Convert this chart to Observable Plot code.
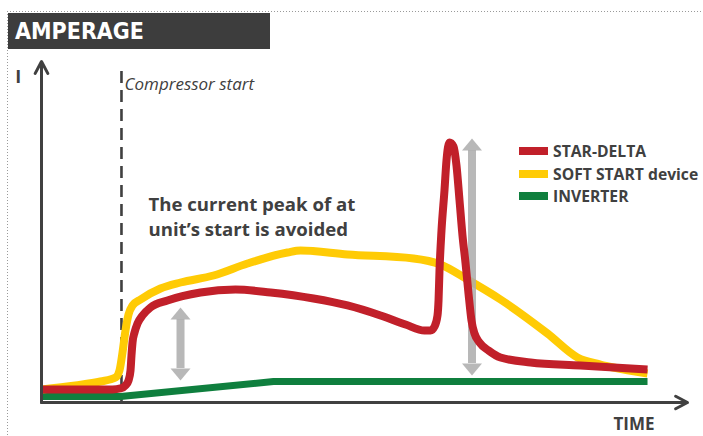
<!DOCTYPE html>
<html><head><meta charset="utf-8">
<script src="https://cdn.jsdelivr.net/npm/d3@7"></script>
<script src="https://cdn.jsdelivr.net/npm/@observablehq/plot@0.6"></script>
<style>
body{margin:0;background:#fff;}
#wrap{position:relative;width:703px;height:436px;overflow:hidden;font-family:"Open Sans",sans-serif;background:#fff;}
#wrap svg{position:absolute;left:0;top:0;}
.dotH{position:absolute;left:7px;top:11px;width:696px;height:1px;background:repeating-linear-gradient(to right,#9a9a9a 0 1px,transparent 1px 3px);}
.dotV{position:absolute;left:7px;top:11px;width:1px;height:425px;background:repeating-linear-gradient(to bottom,#9a9a9a 0 1px,transparent 1px 3px);}
#title{position:absolute;left:8px;top:13px;width:262px;height:36px;background:#3d3d3d;color:#fff;font-weight:bold;font-size:23px;line-height:36px;font-family:"DejaVu Sans Condensed","Liberation Sans Narrow",sans-serif;padding-left:7px;box-sizing:border-box;}
#legend{position:absolute;left:519px;top:140px;}
.row{display:flex;align-items:center;height:22.5px;font-weight:700;font-size:15.7px;color:#404040;white-space:nowrap;}
.sw{width:29px;height:8px;margin-right:5px;}
</style></head><body>
<div id="wrap">
  <div class="dotH"></div><div class="dotV"></div>
  <div id="chart"></div>
  <div id="title">AMPERAGE</div>
  <div id="legend"></div>
</div>
<script>
// Series names and colours
const seriesNames = ["STAR-DELTA", "SOFT START device", "INVERTER"];
const seriesColors = ["#c1202a", "#ffcb05", "#0f7f3e"];

// STAR-DELTA (time units 0-100, current units 0-100)
const starDeltaT = [0, 10.99, 12.23, 13.00, 13.47, 13.78, 13.93, 14.09, 14.40, 14.86, 15.63, 16.87, 19.50, 24.61, 30.03, 35.45, 42.11, 47.37, 52.48, 56.35, 59.29, 60.22, 60.84, 61.30, 61.46, 61.61, 61.92, 62.38, 62.69, 63.16, 63.78, 64.24, 64.71, 65.17, 65.63, 66.10, 66.56, 67.03, 67.80, 69.20, 71.05, 75.70, 83.44, 93.81];
const starDeltaI = [3.81, 3.81, 4.11, 4.99, 6.45, 9.38, 13.78, 17.60, 20.53, 23.17, 25.51, 27.86, 29.91, 32.26, 33.14, 32.26, 30.50, 28.45, 25.51, 22.87, 21.11, 21.11, 22.29, 25.51, 29.91, 38.71, 50.44, 62.17, 70.97, 76.25, 75.07, 69.50, 59.24, 48.97, 41.06, 31.96, 24.05, 20.23, 17.60, 15.25, 13.20, 11.73, 10.85, 9.68];

// SOFT START device
const softStartT = [0, 5.26, 9.13, 11.46, 12.07, 12.54, 13.00, 13.47, 14.09, 15.33, 18.42, 21.52, 26.63, 31.89, 38.08, 40.09, 47.37, 57.59, 61.76, 65.94, 71.05, 78.33, 82.97, 86.53, 88.54, 93.81];
const softStartI = [3.81, 4.99, 6.16, 7.33, 9.38, 14.66, 21.11, 25.81, 28.45, 30.21, 33.43, 35.19, 37.24, 40.76, 43.99, 44.57, 43.40, 42.23, 40.47, 36.07, 30.21, 20.23, 13.20, 11.14, 10.26, 8.50];

// INVERTER
const inverterT = [0, 12.23, 35.91, 93.81];
const inverterI = [1.76, 1.76, 6.16, 6.16];

// Compressor start marker
const compressorStartT = 12.38;
const compressorStartTop = 97.07;

// Grey double arrows (time, top, bottom)
const arrowT = [21.52, 66.64];
const arrowTop = [27.86, 77.42];
const arrowBottom = [6.45, 7.92];

// Texts
const titleText = "AMPERAGE";
const yLabel = "I";
const xLabel = "TIME";
const startLabel = "Compressor start";
const noteText = "The current peak of at\nunit’s start is avoided";

const toRows = (T, I, s) => T.map((t, k) => ({t, i: I[k], series: s}));
const starDelta = toRows(starDeltaT, starDeltaI, seriesNames[0]);
const softStart = toRows(softStartT, softStartI, seriesNames[1]);
const inverter = toRows(inverterT, inverterI, seriesNames[2]);
const arrows = arrowT.map((t, k) => ({t, top: arrowTop[k], bottom: arrowBottom[k]}));

const head = {draw(ctx) { ctx.moveTo(0, 0); ctx.lineTo(10, 12); ctx.lineTo(-10, 12); ctx.closePath(); }};
const axisColor = "#404040";
const textColor = "#404040";
const grey = "#acacac";

const lineOpts = {x: "t", y: "i", stroke: "series", strokeLinecap: "butt", strokeLinejoin: "round", curve: "monotone-x"};

const chart = Plot.plot({
  width: 703, height: 436,
  marginLeft: 41, marginRight: 16, marginTop: 61, marginBottom: 34,
  x: {domain: [0, 100], axis: null},
  y: {domain: [0, 100], axis: null},
  color: {domain: seriesNames, range: seriesColors},
  style: {background: "transparent", overflow: "visible"},
  marks: [
    Plot.ruleX([compressorStartT], {x: d => d, y1: compressorStartTop, y2: 0, stroke: axisColor, strokeWidth: 2.6, strokeDasharray: "12,7"}),
    Plot.line(inverter, {...lineOpts, curve: "linear", strokeWidth: 7}),
    Plot.line(softStart, {...lineOpts, strokeWidth: 8}),
    Plot.ruleX(arrows, {x: "t", y1: "top", y2: "bottom", stroke: grey, strokeWidth: 8, insetTop: 12, insetBottom: 12, opacity: 0.85}),
    Plot.dot(arrows, {x: "t", y: "top", symbol: head, fill: grey, stroke: null, opacity: 0.85}),
    Plot.dot(arrows, {x: "t", y: "bottom", symbol: head, rotate: 180, fill: grey, stroke: null, opacity: 0.85}),
    Plot.line(starDelta, {...lineOpts, strokeWidth: 8}),
    Plot.arrow([0], {x1: 0, y1: 0, x2: 0, y2: 100, stroke: axisColor, strokeWidth: 3, headLength: 6.7, headAngle: 56}),
    Plot.arrow([0], {x1: 0, y1: 0, x2: 100, y2: 0, stroke: axisColor, strokeWidth: 3, headLength: 6.7, headAngle: 56}),
    Plot.text([yLabel], {x: -3.6, y: 93.8, text: d => d, lineAnchor: "bottom", textAnchor: "middle", fontFamily: "Open Sans", fontWeight: "bold", fontSize: 18, fill: textColor}),
    Plot.text([xLabel], {x: 88.54, y: -8.21, text: d => d, lineAnchor: "bottom", textAnchor: "start", fontFamily: "Open Sans", fontWeight: "bold", fontSize: 17, fill: textColor}),
    Plot.text([startLabel], {x: 12.85, y: 91.5, text: d => d, lineAnchor: "bottom", textAnchor: "start", fontFamily: "Open Sans", fontStyle: "italic", fontSize: 17, fill: textColor}),
    Plot.text([noteText], {x: 16.56, y: 48.97, text: d => d, lineAnchor: "bottom", textAnchor: "start", lineHeight: 1.33, fontFamily: "Open Sans", fontWeight: "bold", fontSize: 18.6, fill: textColor})
  ]
});
document.getElementById("chart").appendChild(chart);

const legend = document.getElementById("legend");
seriesNames.forEach((name, k) => {
  const row = document.createElement("div");
  row.className = "row";
  const sw = document.createElement("div");
  sw.className = "sw";
  sw.style.background = seriesColors[k];
  const label = document.createElement("span");
  label.textContent = name;
  row.appendChild(sw); row.appendChild(label);
  legend.appendChild(row);
});
document.getElementById("title").textContent = titleText;
</script>
</body></html>
